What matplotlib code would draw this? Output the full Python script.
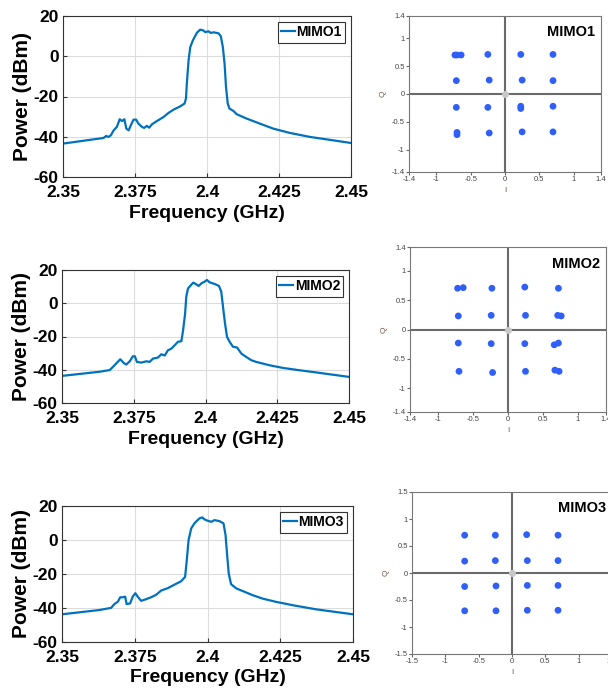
"""
Spectrum and constellation panels for three MIMO streams.
Left column: received power spectrum. Right column: 16-QAM constellation.
"""

import matplotlib
matplotlib.use("Agg")
import matplotlib.pyplot as plt

plt.rcParams["font.family"] = ["Liberation Sans", "DejaVu Sans"]
plt.rcParams["axes.unicode_minus"] = False

# ---- spectrum data (GHz, dBm) ----
freq_mimo1 = [2.35, 2.3641, 2.3650, 2.3658, 2.3666, 2.3676, 2.3687, 2.3697, 2.3705,
              2.3713, 2.3720, 2.3728, 2.3737, 2.3745, 2.3754, 2.3762, 2.3774, 2.3782,
              2.3791, 2.3799, 2.3809, 2.3826, 2.3849, 2.3866, 2.3884, 2.3907, 2.3922,
              2.3927, 2.3930, 2.3936, 2.3942, 2.3951, 2.3965, 2.3976, 2.3986, 2.3994,
              2.4005, 2.4013, 2.4023, 2.4040, 2.4048, 2.4055, 2.4061, 2.4066, 2.4072,
              2.4078, 2.4092, 2.4103, 2.4138, 2.4184, 2.4231, 2.4288, 2.4358, 2.4439,
              2.45]
pow_mimo1 = [-43.4, -40.6, -39.6, -40.1, -39.3, -36.8, -35.1, -31.3, -32.2,
             -31.3, -36.0, -36.8, -33.8, -31.5, -31.5, -33.5, -35.1, -35.6,
             -34.6, -35.5, -33.8, -32.2, -30.2, -28.2, -26.5, -24.9, -23.5,
             -21.0, -13.6, -2.0, 4.6, 7.9, 11.7, 13.2, 12.9, 12.0,
             12.4, 11.6, 11.9, 11.4, 9.9, 4.6, -3.7, -15.3, -23.5,
             -26.0, -27.2, -28.8, -31.0, -33.5, -36.0, -38.1, -40.1, -41.8,
             -43.1]

freq_mimo2 = [2.35, 2.3631, 2.3666, 2.3678, 2.3689, 2.3703, 2.3715, 2.3724, 2.3736,
              2.3747, 2.3754, 2.3761, 2.3776, 2.3794, 2.3805, 2.3817, 2.3834, 2.3846,
              2.3858, 2.3869, 2.3881, 2.3893, 2.3904, 2.3916, 2.3922, 2.3929, 2.3933,
              2.3939, 2.3957, 2.3968, 2.3976, 2.3986, 2.3997, 2.4005, 2.4014, 2.4032,
              2.4047, 2.4055, 2.4061, 2.4068, 2.4075, 2.4084, 2.4096, 2.4110, 2.4125,
              2.4142, 2.4160, 2.4177, 2.4200, 2.4223, 2.4270, 2.4328, 2.4398, 2.45]
pow_mimo2 = [-43.7, -41.2, -40.2, -38.2, -36.2, -33.7, -35.9, -36.9, -34.9,
             -31.9, -31.9, -35.3, -35.7, -34.9, -35.3, -33.3, -32.7, -30.7,
             -31.4, -28.3, -27.3, -25.2, -23.2, -22.8, -16.2, -6.1, 3.9,
             8.9, 12.4, 11.4, 10.4, 12.0, 13.0, 14.0, 12.6, 11.6,
             10.4, 6.9, -2.1, -12.2, -20.2, -23.2, -26.2, -26.6, -30.3,
             -32.3, -34.3, -35.3, -36.3, -37.3, -38.9, -40.3, -41.9, -44.3]

freq_mimo3 = [2.35, 2.3628, 2.3669, 2.3680, 2.3692, 2.3700, 2.3709, 2.3717, 2.3722,
              2.3734, 2.3743, 2.3752, 2.3760, 2.3772, 2.3789, 2.3806, 2.3823, 2.3841,
              2.3864, 2.3886, 2.3909, 2.3923, 2.3929, 2.3935, 2.3944, 2.3955, 2.3972,
              2.3982, 2.3990, 2.4001, 2.4013, 2.4024, 2.4041, 2.4055, 2.4062, 2.4068,
              2.4073, 2.4081, 2.4099, 2.4122, 2.4156, 2.4190, 2.4236, 2.4294, 2.4374,
              2.45]
pow_mimo3 = [-43.7, -41.2, -39.9, -37.7, -36.3, -33.7, -33.7, -33.3, -37.7,
             -37.3, -33.3, -31.3, -33.3, -35.8, -34.8, -33.7, -32.3, -29.7,
             -28.3, -26.3, -24.3, -21.7, -11.5, 0.0, 6.8, 9.8, 12.7,
             13.3, 12.1, 11.3, 10.7, 11.7, 11.1, 9.8, 2.9, -9.9,
             -19.8, -26.0, -28.5, -30.1, -32.5, -34.5, -36.4, -38.4, -40.8,
             -43.7]

freq_ticks = [2.35, 2.375, 2.4, 2.425, 2.45]
freq_ticklabels = ["2.35", "2.375", "2.4", "2.425", "2.45"]
pow_ticks = [-60, -40, -20, 0, 20]

# ---- constellation symbols (I, Q); a few clusters are smeared, hence extra points ----
i_mimo1 = [-0.73, -0.70, -0.64, -0.25, 0.23, 0.70,
           -0.71, -0.23, 0.25, 0.70,
           -0.71, -0.25, 0.23, 0.23, 0.70,
           -0.70, -0.70, -0.23, 0.25, 0.70]
q_mimo1 = [0.70, 0.70, 0.70, 0.71, 0.71, 0.71,
           0.24, 0.25, 0.25, 0.24,
           -0.24, -0.24, -0.22, -0.26, -0.22,
           -0.69, -0.73, -0.70, -0.68, -0.68]

i_mimo2 = [-0.72, -0.64, -0.23, 0.24, 0.72,
           -0.71, -0.24, 0.25, 0.71, 0.76,
           -0.71, -0.24, 0.24, 0.72, 0.66,
           -0.70, -0.22, 0.25, 0.67, 0.73]
q_mimo2 = [0.70, 0.71, 0.70, 0.72, 0.70,
           0.23, 0.24, 0.24, 0.24, 0.23,
           -0.23, -0.24, -0.24, -0.23, -0.26,
           -0.71, -0.73, -0.71, -0.69, -0.71]

i_mimo3 = [-0.71, -0.25, 0.22, 0.69,
           -0.71, -0.25, 0.23, 0.69,
           -0.71, -0.24, 0.23, 0.69,
           -0.71, -0.24, 0.23, 0.69]
q_mimo3 = [0.70, 0.70, 0.71, 0.70,
           0.22, 0.23, 0.23, 0.23,
           -0.25, -0.24, -0.23, -0.23,
           -0.70, -0.70, -0.69, -0.69]

iq_ticks_14 = [-1.4, -1, -0.5, 0, 0.5, 1, 1.4]
iq_ticks_15 = [-1.5, -1, -0.5, 0, 0.5, 1, 1.5]

LINE_BLUE = "#0072BD"
DOT_BLUE = "#2f5ff8"


def draw_spectrum(ax, freq, power, name):
    ax.plot(freq, power, color=LINE_BLUE, linewidth=1.6, label=name)
    ax.set_xlim(2.35, 2.45)
    ax.set_ylim(-60, 20)
    ax.set_xticks(freq_ticks)
    ax.set_xticklabels(freq_ticklabels)
    ax.set_yticks(pow_ticks)
    ax.grid(True, color="#dcdcdc", linewidth=0.8)
    ax.set_axisbelow(True)
    ax.tick_params(direction="in", length=3, labelsize=12.5, color="#333333")
    ax.tick_params(axis="x", pad=6)
    ax.tick_params(axis="y", pad=3)
    for lab in ax.get_xticklabels() + ax.get_yticklabels():
        lab.set_fontweight("bold")
    for sp in ax.spines.values():
        sp.set_color("#333333")
        sp.set_linewidth(0.8)
    ax.set_xlabel("Frequency (GHz)", fontsize=14, fontweight="bold", labelpad=3)
    ax.set_ylabel("Power (dBm)", fontsize=15, fontweight="bold", labelpad=1)
    leg = ax.legend(loc="upper right", handlelength=1.0,
                    handletextpad=0.1, borderpad=0.25, borderaxespad=0.4,
                    fancybox=False, framealpha=1, edgecolor="#333333",
                    prop={"weight": "bold", "size": 10})
    leg.get_frame().set_linewidth(0.8)


def draw_constellation(ax, i_vals, q_vals, name, lim, ticks):
    ax.axhline(0, color="#6a6a6a", linewidth=1.5, zorder=1)
    ax.axvline(0, color="#6a6a6a", linewidth=1.5, zorder=1)
    ax.scatter(i_vals, q_vals, s=24, color=DOT_BLUE, edgecolors="none", zorder=3)
    ax.plot([0], [0], marker="o", markersize=4, color="#c8c8c8", zorder=4)
    ax.set_xlim(-lim, lim)
    ax.set_ylim(-lim, lim)
    ax.set_xticks(ticks)
    ax.set_yticks(ticks)
    labels = [("%g" % t) for t in ticks]
    ax.set_xticklabels(labels)
    ax.set_yticklabels(labels)
    ax.tick_params(direction="out", length=2, labelsize=5.5, pad=1,
                   color="#666666", labelcolor="#444444")
    for sp in ax.spines.values():
        sp.set_color("#777777")
        sp.set_linewidth(0.8)
    ax.set_xlabel("I", fontsize=6, color="#7a5a50", labelpad=3)
    ax.set_ylabel("Q", fontsize=6, color="#7a5a50", labelpad=4)
    ax.text(0.97, 0.90, name, transform=ax.transAxes, ha="right", va="center",
            fontsize=10.5, fontweight="bold", color="black")


W, H = 608, 690
fig = plt.figure(figsize=(W / 100, H / 100), dpi=100)


def add_axes_px(left, top, right, bottom):
    return fig.add_axes([left / W, 1 - bottom / H, (right - left) / W, (bottom - top) / H])


ax_s1 = add_axes_px(63, 16, 351, 177)
ax_s2 = add_axes_px(62, 270, 349, 403)
ax_s3 = add_axes_px(62, 506, 353, 642)
ax_c1 = add_axes_px(409, 16, 601, 172)
ax_c2 = add_axes_px(410, 247, 606, 412)
ax_c3 = add_axes_px(412, 492, 612, 654)

draw_spectrum(ax_s1, freq_mimo1, pow_mimo1, "MIMO1")
draw_spectrum(ax_s2, freq_mimo2, pow_mimo2, "MIMO2")
draw_spectrum(ax_s3, freq_mimo3, pow_mimo3, "MIMO3")

draw_constellation(ax_c1, i_mimo1, q_mimo1, "MIMO1", 1.4, iq_ticks_14)
draw_constellation(ax_c2, i_mimo2, q_mimo2, "MIMO2", 1.4, iq_ticks_14)
draw_constellation(ax_c3, i_mimo3, q_mimo3, "MIMO3", 1.5, iq_ticks_15)

fig.savefig("out.png", dpi=100)
